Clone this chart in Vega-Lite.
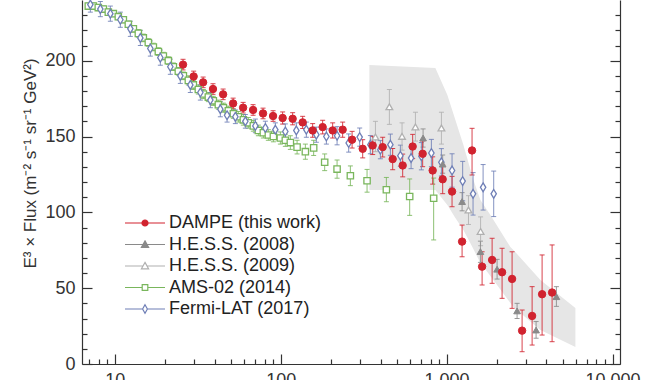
{
  "$schema": "https://vega.github.io/schema/vega-lite/v6.json",
  "width": 538,
  "height": 364,
  "autosize": "none",
  "padding": {"left": 82, "top": 0, "right": 40, "bottom": 16},
  "background": "white",
  "config": {
    "view": {"stroke": null},
    "font": "Liberation Sans",
    "axis": {"grid": false, "domainColor": "#333", "tickColor": "#333", "labelColor": "#333", "titleColor": "#333", "labelFontSize": 18, "domainWidth": 1.2, "tickWidth": 1.2}
  },
  "datasets": {
    "band": [
      {"E": 342.5, "hi": 197.1, "lo": 114.7},
      {"E": 855.8, "hi": 195.2, "lo": 114.7},
      {"E": 1011, "hi": 177.4, "lo": 104.8},
      {"E": 1130, "hi": 160.9, "lo": 96.2},
      {"E": 1263, "hi": 144.4, "lo": 88.3},
      {"E": 1451, "hi": 121.3, "lo": 75.8},
      {"E": 1599, "hi": 108.1, "lo": 66.6},
      {"E": 1837, "hi": 98.2, "lo": 58.0},
      {"E": 2424, "hi": 77.1, "lo": 40.2},
      {"E": 2527, "hi": 75.2, "lo": 37.6},
      {"E": 3677, "hi": 55.4, "lo": 22.4},
      {"E": 5976, "hi": 36.9, "lo": 11.2}
    ],
    "pts": [
      {"s": "AMS-02 (2014)", "E": 6.93, "v": 236, "lo": 234, "hi": 238},
      {"s": "AMS-02 (2014)", "E": 7.43, "v": 236, "lo": 234, "hi": 238},
      {"s": "AMS-02 (2014)", "E": 7.96, "v": 235, "lo": 233, "hi": 237},
      {"s": "AMS-02 (2014)", "E": 8.54, "v": 234, "lo": 232, "hi": 236},
      {"s": "AMS-02 (2014)", "E": 9.15, "v": 232, "lo": 230, "hi": 234},
      {"s": "AMS-02 (2014)", "E": 9.81, "v": 231, "lo": 229, "hi": 233},
      {"s": "AMS-02 (2014)", "E": 10.51, "v": 229, "lo": 227, "hi": 231},
      {"s": "AMS-02 (2014)", "E": 11.27, "v": 227, "lo": 225, "hi": 229},
      {"s": "AMS-02 (2014)", "E": 12.08, "v": 224, "lo": 222, "hi": 226},
      {"s": "AMS-02 (2014)", "E": 12.95, "v": 221, "lo": 219, "hi": 223},
      {"s": "AMS-02 (2014)", "E": 13.88, "v": 218, "lo": 215.5, "hi": 220.5},
      {"s": "AMS-02 (2014)", "E": 14.87, "v": 215, "lo": 212.5, "hi": 217.5},
      {"s": "AMS-02 (2014)", "E": 15.94, "v": 212, "lo": 209.5, "hi": 214.5},
      {"s": "AMS-02 (2014)", "E": 17.09, "v": 209, "lo": 206.5, "hi": 211.5},
      {"s": "AMS-02 (2014)", "E": 18.32, "v": 206, "lo": 203.5, "hi": 208.5},
      {"s": "AMS-02 (2014)", "E": 19.63, "v": 203, "lo": 200.5, "hi": 205.5},
      {"s": "AMS-02 (2014)", "E": 21.04, "v": 200, "lo": 197.5, "hi": 202.5},
      {"s": "AMS-02 (2014)", "E": 22.56, "v": 196, "lo": 193.5, "hi": 198.5},
      {"s": "AMS-02 (2014)", "E": 24.17, "v": 193, "lo": 190.5, "hi": 195.5},
      {"s": "AMS-02 (2014)", "E": 25.92, "v": 190, "lo": 187.5, "hi": 192.5},
      {"s": "AMS-02 (2014)", "E": 27.78, "v": 187, "lo": 184, "hi": 190},
      {"s": "AMS-02 (2014)", "E": 29.77, "v": 184, "lo": 181, "hi": 187},
      {"s": "AMS-02 (2014)", "E": 31.91, "v": 181, "lo": 178, "hi": 184},
      {"s": "AMS-02 (2014)", "E": 34.21, "v": 178, "lo": 175, "hi": 181},
      {"s": "AMS-02 (2014)", "E": 36.66, "v": 176, "lo": 173, "hi": 179},
      {"s": "AMS-02 (2014)", "E": 39.29, "v": 173.5, "lo": 170.5, "hi": 176.5},
      {"s": "AMS-02 (2014)", "E": 42.12, "v": 171, "lo": 168, "hi": 174},
      {"s": "AMS-02 (2014)", "E": 45.14, "v": 169, "lo": 166, "hi": 172},
      {"s": "AMS-02 (2014)", "E": 48.38, "v": 167, "lo": 164, "hi": 170},
      {"s": "AMS-02 (2014)", "E": 51.87, "v": 165, "lo": 162, "hi": 168},
      {"s": "AMS-02 (2014)", "E": 55.59, "v": 163, "lo": 159.5, "hi": 166.5},
      {"s": "AMS-02 (2014)", "E": 59.59, "v": 161, "lo": 157.5, "hi": 164.5},
      {"s": "AMS-02 (2014)", "E": 63.86, "v": 159, "lo": 155.5, "hi": 162.5},
      {"s": "AMS-02 (2014)", "E": 68.45, "v": 157, "lo": 153.5, "hi": 160.5},
      {"s": "AMS-02 (2014)", "E": 73.38, "v": 154, "lo": 150.5, "hi": 157.5},
      {"s": "AMS-02 (2014)", "E": 78.64, "v": 152.5, "lo": 149, "hi": 156},
      {"s": "AMS-02 (2014)", "E": 84.3, "v": 151, "lo": 147.5, "hi": 154.5},
      {"s": "AMS-02 (2014)", "E": 90.4, "v": 150, "lo": 146.5, "hi": 153.5},
      {"s": "AMS-02 (2014)", "E": 99.6, "v": 149, "lo": 145, "hi": 153},
      {"s": "AMS-02 (2014)", "E": 106.7, "v": 147.5, "lo": 143.5, "hi": 151.5},
      {"s": "AMS-02 (2014)", "E": 114.4, "v": 146, "lo": 141.5, "hi": 150.5},
      {"s": "AMS-02 (2014)", "E": 125.6, "v": 143, "lo": 138.5, "hi": 147.5},
      {"s": "AMS-02 (2014)", "E": 140.9, "v": 140, "lo": 135, "hi": 145},
      {"s": "AMS-02 (2014)", "E": 158.1, "v": 142.5, "lo": 137.5, "hi": 147.5},
      {"s": "AMS-02 (2014)", "E": 184.2, "v": 133, "lo": 127.5, "hi": 138.5},
      {"s": "AMS-02 (2014)", "E": 218.8, "v": 128.5, "lo": 122.5, "hi": 134.5},
      {"s": "AMS-02 (2014)", "E": 263.1, "v": 124.1, "lo": 117.6, "hi": 130.6},
      {"s": "AMS-02 (2014)", "E": 331.7, "v": 120.8, "lo": 113.3, "hi": 128.3},
      {"s": "AMS-02 (2014)", "E": 433.6, "v": 114.9, "lo": 107, "hi": 123},
      {"s": "AMS-02 (2014)", "E": 599.2, "v": 110.4, "lo": 98, "hi": 122},
      {"s": "AMS-02 (2014)", "E": 835.9, "v": 109.3, "lo": 81.8, "hi": 122.6},
      {"s": "Fermi-LAT (2017)", "E": 7.13, "v": 237, "lo": 232, "hi": 242},
      {"s": "Fermi-LAT (2017)", "E": 8.19, "v": 234, "lo": 229, "hi": 239},
      {"s": "Fermi-LAT (2017)", "E": 9.41, "v": 231, "lo": 226, "hi": 236},
      {"s": "Fermi-LAT (2017)", "E": 10.81, "v": 227, "lo": 222, "hi": 232},
      {"s": "Fermi-LAT (2017)", "E": 12.42, "v": 221, "lo": 216, "hi": 226},
      {"s": "Fermi-LAT (2017)", "E": 14.27, "v": 215, "lo": 210, "hi": 220},
      {"s": "Fermi-LAT (2017)", "E": 16.39, "v": 208, "lo": 203, "hi": 213},
      {"s": "Fermi-LAT (2017)", "E": 18.83, "v": 202, "lo": 197, "hi": 207},
      {"s": "Fermi-LAT (2017)", "E": 21.63, "v": 196, "lo": 191, "hi": 201},
      {"s": "Fermi-LAT (2017)", "E": 24.85, "v": 190, "lo": 185, "hi": 195},
      {"s": "Fermi-LAT (2017)", "E": 28.55, "v": 184, "lo": 179, "hi": 189},
      {"s": "Fermi-LAT (2017)", "E": 32.81, "v": 179, "lo": 174, "hi": 184},
      {"s": "Fermi-LAT (2017)", "E": 37.69, "v": 174, "lo": 169, "hi": 179},
      {"s": "Fermi-LAT (2017)", "E": 43.3, "v": 168, "lo": 163, "hi": 173},
      {"s": "Fermi-LAT (2017)", "E": 47.53, "v": 164, "lo": 159.5, "hi": 168.5},
      {"s": "Fermi-LAT (2017)", "E": 53.33, "v": 163, "lo": 158.5, "hi": 167.5},
      {"s": "Fermi-LAT (2017)", "E": 61.27, "v": 160, "lo": 155.5, "hi": 164.5},
      {"s": "Fermi-LAT (2017)", "E": 70.39, "v": 157, "lo": 152.5, "hi": 161.5},
      {"s": "Fermi-LAT (2017)", "E": 80.87, "v": 155.6, "lo": 151.1, "hi": 160.1},
      {"s": "Fermi-LAT (2017)", "E": 92.9, "v": 154.5, "lo": 150, "hi": 159},
      {"s": "Fermi-LAT (2017)", "E": 106.7, "v": 153.3, "lo": 148.3, "hi": 158.3},
      {"s": "Fermi-LAT (2017)", "E": 124.3, "v": 154, "lo": 149, "hi": 159},
      {"s": "Fermi-LAT (2017)", "E": 142.8, "v": 154.5, "lo": 149.5, "hi": 159.5},
      {"s": "Fermi-LAT (2017)", "E": 164.1, "v": 151.2, "lo": 146.2, "hi": 156.2},
      {"s": "Fermi-LAT (2017)", "E": 188.6, "v": 150, "lo": 145, "hi": 155},
      {"s": "Fermi-LAT (2017)", "E": 218.8, "v": 150.5, "lo": 144.5, "hi": 156.5},
      {"s": "Fermi-LAT (2017)", "E": 257.0, "v": 145.7, "lo": 139.7, "hi": 151.7},
      {"s": "Fermi-LAT (2017)", "E": 299.4, "v": 149.6, "lo": 143.6, "hi": 155.6},
      {"s": "Fermi-LAT (2017)", "E": 347.3, "v": 144.6, "lo": 138.6, "hi": 150.6},
      {"s": "Fermi-LAT (2017)", "E": 399.0, "v": 141.3, "lo": 135.3, "hi": 147.3},
      {"s": "Fermi-LAT (2017)", "E": 458.4, "v": 144.6, "lo": 137.6, "hi": 151.6},
      {"s": "Fermi-LAT (2017)", "E": 526.6, "v": 137.3, "lo": 130.3, "hi": 144.3},
      {"s": "Fermi-LAT (2017)", "E": 611.0, "v": 135.8, "lo": 128.8, "hi": 142.8},
      {"s": "Fermi-LAT (2017)", "E": 704.8, "v": 137, "lo": 128, "hi": 146},
      {"s": "Fermi-LAT (2017)", "E": 809.8, "v": 139.1, "lo": 130.1, "hi": 148.1},
      {"s": "Fermi-LAT (2017)", "E": 930.3, "v": 133, "lo": 124, "hi": 142},
      {"s": "Fermi-LAT (2017)", "E": 1079, "v": 127.6, "lo": 116.6, "hi": 138.6},
      {"s": "Fermi-LAT (2017)", "E": 1250, "v": 120.6, "lo": 107.6, "hi": 133.6},
      {"s": "Fermi-LAT (2017)", "E": 1444, "v": 112.2, "lo": 98.2, "hi": 126.2},
      {"s": "Fermi-LAT (2017)", "E": 1660, "v": 116.5, "lo": 101.5, "hi": 131.5},
      {"s": "Fermi-LAT (2017)", "E": 1923, "v": 112.2, "lo": 97.2, "hi": 127.2},
      {"s": "H.E.S.S. (2009)", "E": 372.6, "v": 149.7, "lo": 140, "hi": 160},
      {"s": "H.E.S.S. (2009)", "E": 452, "v": 169.6, "lo": 158, "hi": 181},
      {"s": "H.E.S.S. (2009)", "E": 539, "v": 150.1, "lo": 141, "hi": 159},
      {"s": "H.E.S.S. (2009)", "E": 649, "v": 156.3, "lo": 147, "hi": 166},
      {"s": "H.E.S.S. (2009)", "E": 931, "v": 155.6, "lo": 145, "hi": 166},
      {"s": "H.E.S.S. (2009)", "E": 1355, "v": 101.5, "lo": 92, "hi": 111},
      {"s": "H.E.S.S. (2009)", "E": 1603, "v": 87.4, "lo": 78, "hi": 97},
      {"s": "H.E.S.S. (2008)", "E": 721.7, "v": 149.0, "lo": 143, "hi": 155},
      {"s": "H.E.S.S. (2008)", "E": 947, "v": 131.8, "lo": 125.8, "hi": 137.8},
      {"s": "H.E.S.S. (2008)", "E": 1240, "v": 107.1, "lo": 101, "hi": 113},
      {"s": "H.E.S.S. (2008)", "E": 1599, "v": 74.1, "lo": 67, "hi": 81},
      {"s": "H.E.S.S. (2008)", "E": 2016, "v": 62.5, "lo": 56, "hi": 69},
      {"s": "H.E.S.S. (2008)", "E": 2660, "v": 35.0, "lo": 30, "hi": 40},
      {"s": "H.E.S.S. (2008)", "E": 3463, "v": 22.4, "lo": 17, "hi": 28},
      {"s": "H.E.S.S. (2008)", "E": 4590, "v": 44.4, "lo": 38, "hi": 51},
      {"s": "DAMPE (this work)", "E": 25.8, "v": 197.4, "lo": 193.9, "hi": 200.9},
      {"s": "DAMPE (this work)", "E": 29.9, "v": 189.6, "lo": 186.1, "hi": 193.1},
      {"s": "DAMPE (this work)", "E": 34.1, "v": 185.7, "lo": 182.2, "hi": 189.2},
      {"s": "DAMPE (this work)", "E": 39.1, "v": 181.3, "lo": 177.8, "hi": 184.8},
      {"s": "DAMPE (this work)", "E": 45.0, "v": 177.8, "lo": 174.3, "hi": 181.3},
      {"s": "DAMPE (this work)", "E": 51.7, "v": 171.8, "lo": 168.3, "hi": 175.3},
      {"s": "DAMPE (this work)", "E": 59.4, "v": 169.0, "lo": 165.5, "hi": 172.5},
      {"s": "DAMPE (this work)", "E": 68.2, "v": 167.5, "lo": 164, "hi": 171},
      {"s": "DAMPE (this work)", "E": 78.3, "v": 165.2, "lo": 161.7, "hi": 168.7},
      {"s": "DAMPE (this work)", "E": 90.0, "v": 163.5, "lo": 160, "hi": 167},
      {"s": "DAMPE (this work)", "E": 102.8, "v": 162.2, "lo": 158.2, "hi": 166.2},
      {"s": "DAMPE (this work)", "E": 118.1, "v": 161.7, "lo": 157.7, "hi": 165.7},
      {"s": "DAMPE (this work)", "E": 135.7, "v": 159.3, "lo": 155.3, "hi": 163.3},
      {"s": "DAMPE (this work)", "E": 155.9, "v": 154.0, "lo": 149.5, "hi": 158.5},
      {"s": "DAMPE (this work)", "E": 179.1, "v": 156.2, "lo": 151.7, "hi": 160.7},
      {"s": "DAMPE (this work)", "E": 205.8, "v": 154.0, "lo": 149, "hi": 159},
      {"s": "DAMPE (this work)", "E": 236.4, "v": 154.5, "lo": 149.5, "hi": 159.5},
      {"s": "DAMPE (this work)", "E": 269.5, "v": 147.9, "lo": 142.4, "hi": 153.4},
      {"s": "DAMPE (this work)", "E": 312.2, "v": 141.9, "lo": 135.9, "hi": 147.9},
      {"s": "DAMPE (this work)", "E": 358.6, "v": 144.1, "lo": 138.1, "hi": 150.1},
      {"s": "DAMPE (this work)", "E": 412.0, "v": 143.0, "lo": 136.5, "hi": 149.5},
      {"s": "DAMPE (this work)", "E": 473.3, "v": 135.1, "lo": 128.1, "hi": 142.1},
      {"s": "DAMPE (this work)", "E": 543.8, "v": 130.9, "lo": 123.4, "hi": 138.4},
      {"s": "DAMPE (this work)", "E": 624.6, "v": 143.4, "lo": 135.4, "hi": 151.4},
      {"s": "DAMPE (this work)", "E": 717.6, "v": 138.6, "lo": 130.1, "hi": 147.1},
      {"s": "DAMPE (this work)", "E": 824.5, "v": 127.6, "lo": 118.6, "hi": 136.6},
      {"s": "DAMPE (this work)", "E": 947.3, "v": 121.8, "lo": 112.3, "hi": 131.3},
      {"s": "DAMPE (this work)", "E": 1079, "v": 113.7, "lo": 103.7, "hi": 123.7},
      {"s": "DAMPE (this work)", "E": 1240, "v": 80.7, "lo": 70.7, "hi": 91.6},
      {"s": "DAMPE (this work)", "E": 1424, "v": 140.8, "lo": 124.6, "hi": 155.4},
      {"s": "DAMPE (this work)", "E": 1637, "v": 64.2, "lo": 52.1, "hi": 74},
      {"s": "DAMPE (this work)", "E": 1881, "v": 68.6, "lo": 53.2, "hi": 82.9},
      {"s": "DAMPE (this work)", "E": 2160, "v": 60.5, "lo": 43.3, "hi": 76.3},
      {"s": "DAMPE (this work)", "E": 2482, "v": 56.1, "lo": 36.7, "hi": 74},
      {"s": "DAMPE (this work)", "E": 2852, "v": 22.0, "lo": 8.1, "hi": 35.6},
      {"s": "DAMPE (this work)", "E": 3277, "v": 31.7, "lo": 12.5, "hi": 51},
      {"s": "DAMPE (this work)", "E": 3764, "v": 46.0, "lo": 19.1, "hi": 71.9},
      {"s": "DAMPE (this work)", "E": 4324, "v": 47.1, "lo": 14.7, "hi": 78.5}
    ]
  },
  "layer": [
    {
      "data": {"name": "band"},
      "mark": {"type": "area", "color": "#e6e6e6"},
      "encoding": {
        "x": {"field": "E", "type": "quantitative", "scale": {"type": "log", "domain": [6.35, 11095], "nice": false},
          "axis": {"orient": "bottom", "values": [10, 100, 1000, 10000], "format": ",", "tickSize": -10, "labelPadding": 17, "title": null, "labelFlush": false, "labelOverlap": false}},
        "y": {"field": "hi", "type": "quantitative", "scale": {"domain": [0, 240], "nice": false, "zero": false},
          "axis": {"orient": "left", "values": [0, 50, 100, 150, 200], "tickSize": -10, "labelPadding": 17, "title": "E³ × Flux (m⁻² s⁻¹ sr⁻¹ GeV²)", "titleFontSize": 17, "titleFontWeight": "normal", "titleX": -52, "titleY": 163, "titleAngle": -90, "titleAlign": "center", "titleBaseline": "middle"}},
        "y2": {"field": "lo"}
      }
    },
    {
      "data": {"name": "pts"},
      "mark": {"type": "errorbar", "ticks": true, "thickness": 1, "opacity": 0.85},
      "encoding": {
        "x": {"field": "E", "type": "quantitative",
          "axis": {"orient": "bottom", "values": [7, 8, 9, 20, 30, 40, 50, 60, 70, 80, 90, 200, 300, 400, 500, 600, 700, 800, 900, 2000, 3000, 4000, 5000, 6000, 7000, 8000, 9000], "labels": false, "tickSize": -5, "domain": false, "title": null}},
        "y": {"field": "lo", "type": "quantitative",
          "axis": {"orient": "left", "values": [10, 20, 30, 40, 60, 70, 80, 90, 110, 120, 130, 140, 160, 170, 180, 190, 210, 220, 230], "labels": false, "tickSize": -5, "domain": false, "title": null}},
        "y2": {"field": "hi"},
        "color": {"field": "s", "type": "nominal", "legend": null,
          "scale": {"domain": ["Fermi-LAT (2017)", "AMS-02 (2014)", "H.E.S.S. (2009)", "H.E.S.S. (2008)", "DAMPE (this work)"], "range": ["#6f7fb6", "#79b65c", "#b0b0b0", "#8a8a8a", "#d1232f"]}}
      }
    },
    {
      "data": {"name": "pts"},
      "transform": [{"filter": {"field": "s", "equal": "AMS-02 (2014)"}}],
      "mark": {"type": "point", "shape": "square", "filled": true, "fill": "white", "stroke": "#79b65c", "size": 40, "strokeWidth": 1.3, "opacity": 1},
      "encoding": {
        "x": {"field": "E", "type": "quantitative", "axis": null},
        "y": {"field": "v", "type": "quantitative",
          "axis": {"orient": "right", "values": [0, 50, 100, 150, 200], "labels": false, "tickSize": -10, "title": null}}
      }
    },
    {
      "data": {"name": "pts"},
      "transform": [{"filter": {"field": "s", "equal": "Fermi-LAT (2017)"}}],
      "mark": {"type": "point", "shape": "M0,-1.3L0.8,0L0,1.3L-0.8,0Z", "filled": true, "fill": "white", "stroke": "#6f7fb6", "size": 45, "strokeWidth": 1.3, "opacity": 1},
      "encoding": {
        "x": {"field": "E", "type": "quantitative", "axis": null},
        "y": {"field": "v", "type": "quantitative",
          "axis": {"orient": "right", "values": [10, 20, 30, 40, 60, 70, 80, 90, 110, 120, 130, 140, 160, 170, 180, 190, 210, 220, 230], "labels": false, "tickSize": -5, "domain": false, "title": null}}
      }
    },
    {
      "data": {"name": "pts"},
      "transform": [{"filter": {"field": "s", "equal": "H.E.S.S. (2009)"}}],
      "mark": {"type": "point", "shape": "triangle-up", "filled": true, "fill": "white", "stroke": "#b0b0b0", "size": 45, "strokeWidth": 1.3, "opacity": 1},
      "encoding": {
        "x": {"field": "E", "type": "quantitative", "axis": null},
        "y": {"field": "v", "type": "quantitative", "axis": null}
      }
    },
    {
      "data": {"name": "pts"},
      "transform": [{"filter": {"field": "s", "equal": "H.E.S.S. (2008)"}}],
      "mark": {"type": "point", "shape": "triangle-up", "filled": true, "fill": "#8a8a8a", "stroke": "#8a8a8a", "size": 45, "strokeWidth": 1, "opacity": 1},
      "encoding": {
        "x": {"field": "E", "type": "quantitative", "axis": null},
        "y": {"field": "v", "type": "quantitative", "axis": null}
      }
    },
    {
      "data": {"name": "pts"},
      "transform": [{"filter": {"field": "s", "equal": "DAMPE (this work)"}}],
      "mark": {"type": "point", "shape": "circle", "filled": true, "fill": "#d1232f", "stroke": "#d1232f", "size": 55, "strokeWidth": 1, "opacity": 1},
      "encoding": {
        "x": {"field": "E", "type": "quantitative", "axis": null},
        "y": {"field": "v", "type": "quantitative", "axis": null}
      }
    },
    {
      "data": {"name": "pts"},
      "transform": [{"filter": "false"}],
      "mark": {"type": "point", "filled": true, "opacity": 1},
      "encoding": {
        "fill": {"field": "s", "type": "nominal",
          "scale": {"domain": ["DAMPE (this work)", "H.E.S.S. (2008)", "H.E.S.S. (2009)", "AMS-02 (2014)", "Fermi-LAT (2017)"], "range": ["#d1232f", "#8a8a8a", "white", "white", "white"]},
          "legend": {"orient": "none", "legendX": 54, "legendY": 214, "title": null, "labelFontSize": 18, "labelColor": "#222", "labelFont": "Liberation Sans", "rowPadding": 3.5, "padding": 0, "labelOffset": 15, "symbolOffset": 0, "symbolSize": 64, "symbolStrokeWidth": 1.2, "symbolOpacity": 1}},
        "stroke": {"field": "s", "type": "nominal",
          "scale": {"domain": ["DAMPE (this work)", "H.E.S.S. (2008)", "H.E.S.S. (2009)", "AMS-02 (2014)", "Fermi-LAT (2017)"], "range": ["#d1232f", "#8a8a8a", "#b0b0b0", "#79b65c", "#6f7fb6"]}},
        "shape": {"field": "s", "type": "nominal",
          "scale": {"domain": ["DAMPE (this work)", "H.E.S.S. (2008)", "H.E.S.S. (2009)", "AMS-02 (2014)", "Fermi-LAT (2017)"], "range": ["M-5,0H5M-0.75,0A0.75,0.75 0 1,0 0.75,0A0.75,0.75 0 1,0 -0.75,0Z", "M-5,0H5M0,-0.9L0.9,0.7L-0.9,0.7Z", "M-5,0H-0.5M0.5,0H5M0,-0.9L0.9,0.7L-0.9,0.7Z", "M-5,0H-0.7M0.7,0H5M-0.7,-0.7H0.7V0.7H-0.7Z", "M-5,0H-0.6M0.6,0H5M0,-1.05L0.6,0L0,1.05L-0.6,0Z"]}}
      }
    }
  ],
  "resolve": {"axis": {"x": "independent", "y": "independent"}}
}
